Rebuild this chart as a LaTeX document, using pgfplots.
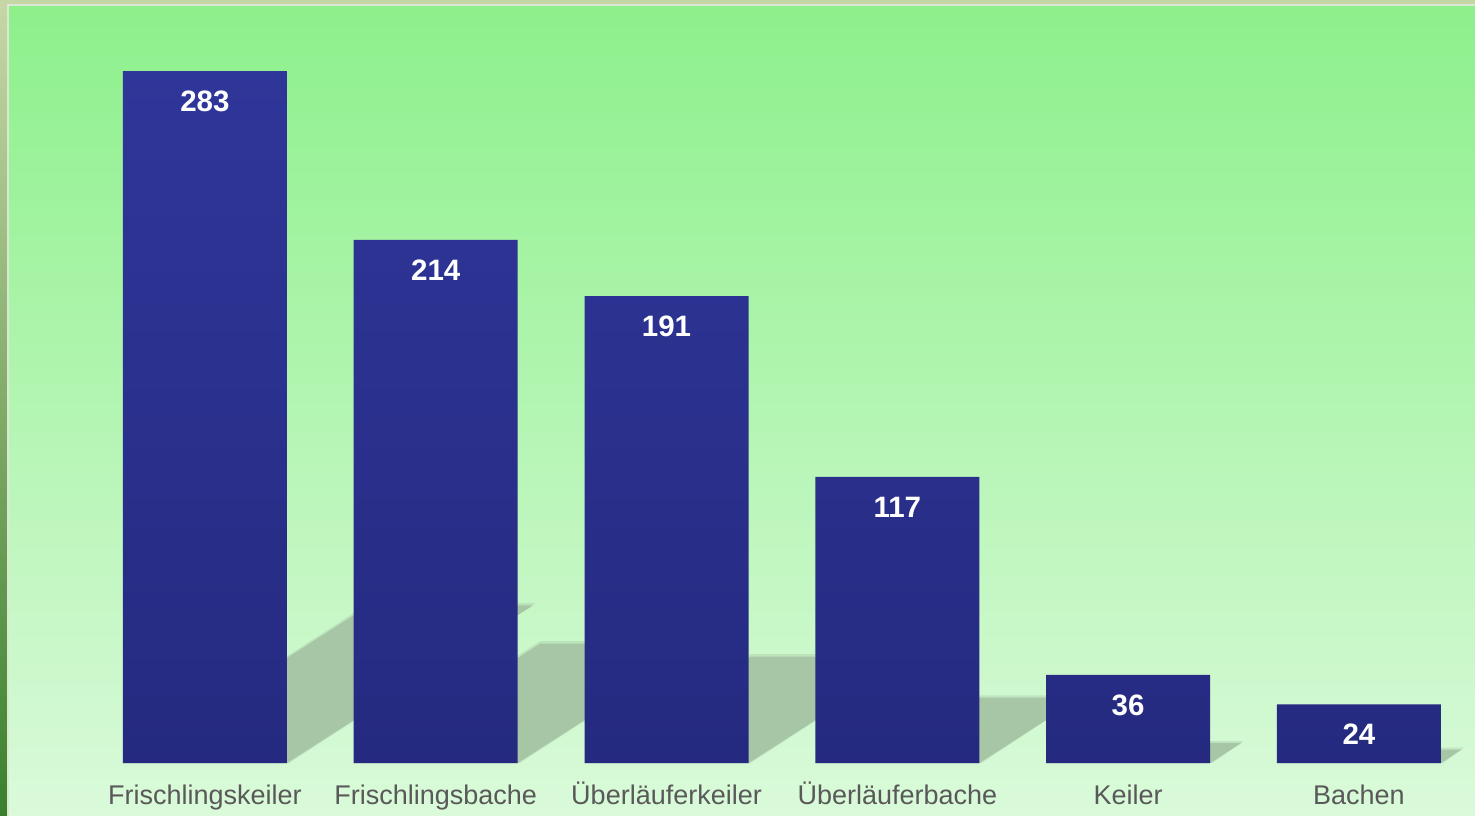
\documentclass[border=0pt]{standalone}
\usepackage{fontspec}
\setmainfont{Liberation Sans}
\usepackage{pgfplots}
\pgfplotsset{compat=1.18}
\definecolor{bgtop}{RGB}{140,240,138}
\definecolor{bgbot}{RGB}{218,250,218}
\definecolor{bartop}{RGB}{47,54,153}
\definecolor{barbot}{RGB}{37,42,128}
\definecolor{shadowc}{RGB}{166,198,166}
\definecolor{labgray}{RGB}{89,89,89}
\definecolor{khaki}{RGB}{198,214,166}
\definecolor{lightline}{RGB}{221,230,208}
\definecolor{darkgreen}{RGB}{58,128,44}
\begin{document}
\begin{tikzpicture}
\begin{axis}[
  width=1475pt, height=815pt, scale only axis,
  xmin=-0.888, xmax=5.503,
  ymin=-21.27, ymax=312.07,
  axis line style={draw=none},
  tick style={draw=none},
  ytick=\empty,
  xtick={0,1,2,3,4,5},
  xticklabels={Frischlingskeiler,Frischlingsbache,Überläuferkeiler,Überläuferbache,Keiler,Bachen},
  xticklabel style={anchor=base, yshift=11pt, font=\fontsize{27}{30}\selectfont, text=labgray},
  axis background/.style={shade, top color=bgtop, bottom color=bgbot},
  /pgf/number format/assume math mode=true,
]
% shadows: soft halo (upper side) then core
\addplot[fill=shadowc, fill opacity=0.4, draw=none] coordinates {(-0.355,0) (0.365,0) (1.432,65.5) (0.712,65.5)} --cycle;
\addplot[fill=shadowc, draw=none] coordinates {(-0.355,0) (0.355,0) (1.422,64.5) (0.712,64.5)} --cycle;
\addplot[fill=shadowc, fill opacity=0.4, draw=none] coordinates {(0.645,0) (1.365,0) (2.172,49.8) (1.452,49.8)} --cycle;
\addplot[fill=shadowc, draw=none] coordinates {(0.645,0) (1.355,0) (2.162,48.8) (1.452,48.8)} --cycle;
\addplot[fill=shadowc, fill opacity=0.4, draw=none] coordinates {(1.645,0) (2.365,0) (3.085,44.5) (2.365,44.5)} --cycle;
\addplot[fill=shadowc, draw=none] coordinates {(1.645,0) (2.355,0) (3.075,43.5) (2.365,43.5)} --cycle;
\addplot[fill=shadowc, fill opacity=0.4, draw=none] coordinates {(2.645,0) (3.365,0) (3.806,27.7) (3.086,27.7)} --cycle;
\addplot[fill=shadowc, draw=none] coordinates {(2.645,0) (3.355,0) (3.796,26.7) (3.086,26.7)} --cycle;
\addplot[fill=shadowc, fill opacity=0.4, draw=none] coordinates {(3.645,0) (4.365,0) (4.501,9.0) (3.781,9.0)} --cycle;
\addplot[fill=shadowc, draw=none] coordinates {(3.645,0) (4.355,0) (4.491,8.2) (3.781,8.2)} --cycle;
\addplot[fill=shadowc, fill opacity=0.4, draw=none] coordinates {(4.645,0) (5.365,0) (5.455,6.3) (4.735,6.3)} --cycle;
\addplot[fill=shadowc, draw=none] coordinates {(4.645,0) (5.355,0) (5.445,5.5) (4.735,5.5)} --cycle;
% bars
\addplot[ybar, bar width=0.7106, bar shift=0pt, draw=none, top color=bartop, bottom color=barbot,
  nodes near coords={\pgfmathprintnumber{\pgfplotspointmeta}},
  every node near coord/.append style={anchor=center, yshift=-30pt, text=white, font=\fontsize{29.5}{32}\selectfont\bfseries},
] coordinates {(0,283) (1,214) (2,191) (3,117) (4,36) (5,24)};
\end{axis}
% frame decorations
\fill[khaki] (current axis.north west) rectangle ([yshift=-4.5pt]current axis.north east);
\fill[lightline] ([yshift=-4.5pt]current axis.north west) rectangle ([yshift=-6.5pt]current axis.north east);
\shade[top color=khaki, bottom color=darkgreen] ([yshift=-4.5pt]current axis.north west) rectangle ([xshift=7pt]current axis.south west);
\fill[lightline] ([xshift=7pt,yshift=-4.5pt]current axis.north west) rectangle ([xshift=9pt]current axis.south west);
\pgfresetboundingbox
\useasboundingbox (current axis.south west) rectangle (current axis.north east);
\end{tikzpicture}
\end{document}
